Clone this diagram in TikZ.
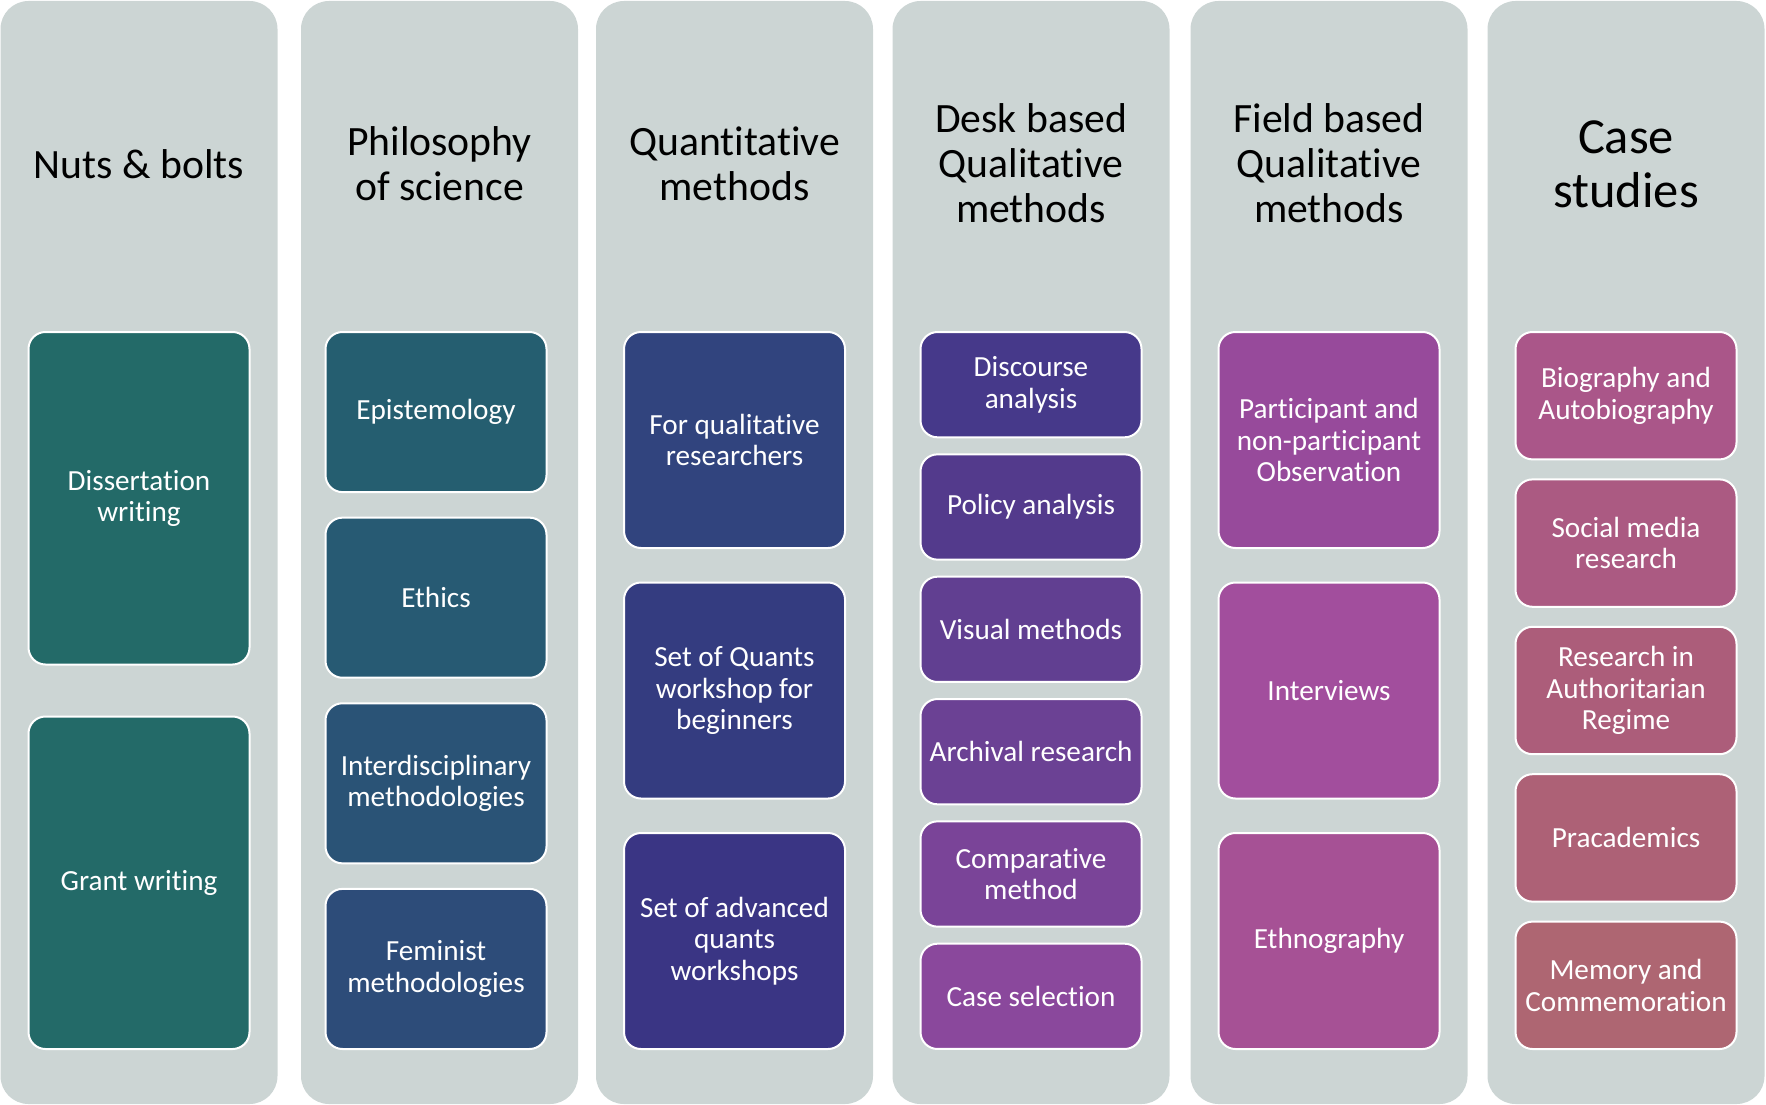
\documentclass[tikz,border=0pt]{standalone}
\usepackage{fontspec}
\setmainfont{Carlito}[RawFeature={-liga;-clig;-dlig}]
\definecolor{colbg}{HTML}{CCD5D4}
\definecolor{k11}{HTML}{236A68}
\definecolor{k12}{HTML}{236A68}
\definecolor{k21}{HTML}{255E70}
\definecolor{k22}{HTML}{275A73}
\definecolor{k23}{HTML}{2A5376}
\definecolor{k24}{HTML}{2D4C79}
\definecolor{k31}{HTML}{31447E}
\definecolor{k32}{HTML}{343C80}
\definecolor{k33}{HTML}{3A3584}
\definecolor{k41}{HTML}{46398A}
\definecolor{k42}{HTML}{533A8C}
\definecolor{k43}{HTML}{613F91}
\definecolor{k44}{HTML}{6B4194}
\definecolor{k45}{HTML}{7A4498}
\definecolor{k46}{HTML}{8A489C}
\definecolor{k51}{HTML}{974A9B}
\definecolor{k52}{HTML}{A24E9D}
\definecolor{k53}{HTML}{A65195}
\definecolor{k61}{HTML}{AA5689}
\definecolor{k62}{HTML}{AB5A82}
\definecolor{k63}{HTML}{AC5D7A}
\definecolor{k64}{HTML}{AD6176}
\definecolor{k65}{HTML}{AE6672}
\newcommand{\bxfont}{\fontsize{29.2}{31.5}\selectfont}
\newcommand{\hdfont}{\fontsize{41.7}{45}\selectfont}
\newcommand{\hdbigfont}{\fontsize{50.5}{54}\selectfont}
\begin{document}
\begin{tikzpicture}[x=1pt,y=-1pt,
  colbox/.style={rectangle, fill=colbg, draw=none, rounded corners=28pt, minimum width=277pt, minimum height=1103pt, inner sep=0pt},
  itembox/.style={rectangle, rounded corners=17pt, draw=white, line width=2pt, text=white, minimum width=221pt, align=center, inner sep=0pt, font=\bxfont},
  head/.style={align=center, text=black, inner sep=0pt, font=\hdfont}]
\useasboundingbox (0,0) rectangle (1766,1105);
% columns
\node[colbox] (c1) at (139,552.5) {};
\node[colbox] (c2) at (439.5,552.5) {};
\node[colbox] (c3) at (734.5,552.5) {};
\node[colbox] (c4) at (1031,552.5) {};
\node[colbox] (c5) at (1329,552.5) {};
\node[colbox] (c6) at (1626,552.5) {};
% headers
\node[head] (h1) at (139,164) {Nuts \& bolts};
\node[head] (h2) at (439.5,164) {Philosophy\\of science};
\node[head] (h3) at (734.5,164) {Quantitative\\methods};
\node[head] (h4) at (1031,163.5) {Desk based\\Qualitative\\methods};
\node[head] (h5) at (1329,163.5) {Field based\\Qualitative\\methods};
\node[head, font=\hdbigfont] (h6) at (1626,164) {Case\\studies};
% column 1
\node[itembox, fill=k11, minimum height=332.5pt] (b11) at (139,498.25) {Dissertation\\writing};
\node[itembox, fill=k12, minimum height=332.5pt] (b12) at (139,882.75) {Grant writing};
% column 2
\node[itembox, fill=k21, minimum height=160.1pt] (b21) at (436,412.06) {Epistemology};
\node[itembox, fill=k22, minimum height=160.1pt] (b22) at (436,597.69) {Ethics};
\node[itembox, fill=k23, minimum height=160.1pt] (b23) at (436,783.31) {Interdisciplinary\\methodologies};
\node[itembox, fill=k24, minimum height=160.1pt] (b24) at (436,968.94) {Feminist\\methodologies};
% column 3
\node[itembox, fill=k31, minimum height=216pt] (b31) at (734.5,440) {For qualitative\\researchers};
\node[itembox, fill=k32, minimum height=216pt] (b32) at (734.5,690.5) {Set of Quants\\workshop for\\beginners};
\node[itembox, fill=k33, minimum height=216pt] (b33) at (734.5,941) {Set of advanced\\quants\\workshops};
% column 4
\node[itembox, fill=k41, minimum height=105.3pt] (b41) at (1031,384.67) {Discourse\\analysis};
\node[itembox, fill=k42, minimum height=105.3pt] (b42) at (1031,507) {Policy analysis};
\node[itembox, fill=k43, minimum height=105.3pt] (b43) at (1031,629.33) {Visual methods};
\node[itembox, fill=k44, minimum height=105.3pt] (b44) at (1031,751.67) {Archival research};
\node[itembox, fill=k45, minimum height=105.3pt] (b45) at (1031,874) {Comparative\\method};
\node[itembox, fill=k46, minimum height=105.3pt] (b46) at (1031,996.33) {Case selection};
% column 5
\node[itembox, fill=k51, minimum height=216pt] (b51) at (1329,440) {Participant and\\non-participant\\Observation};
\node[itembox, fill=k52, minimum height=216pt] (b52) at (1329,690.5) {Interviews};
\node[itembox, fill=k53, minimum height=216pt] (b53) at (1329,941) {Ethnography};
% column 6
\node[itembox, fill=k61, minimum height=127.4pt] (b61) at (1626,395.7) {Biography and\\Autobiography};
\node[itembox, fill=k62, minimum height=127.4pt] (b62) at (1626,543.1) {Social media\\research};
\node[itembox, fill=k63, minimum height=127.4pt] (b63) at (1626,690.5) {Research in\\Authoritarian\\Regime};
\node[itembox, fill=k64, minimum height=127.4pt] (b64) at (1626,837.9) {Pracademics};
\node[itembox, fill=k65, minimum height=127.4pt] (b65) at (1626,985.3) {Memory and\\Commemoration};
\end{tikzpicture}
\end{document}
